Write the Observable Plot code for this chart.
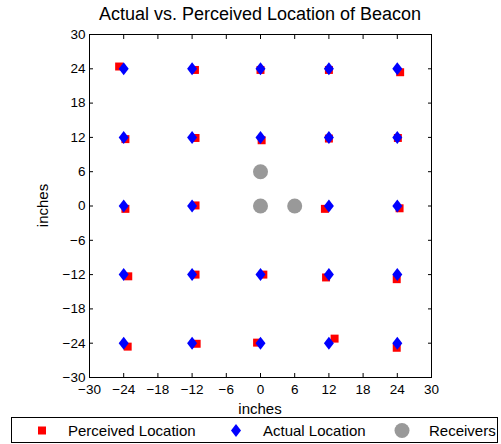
<!DOCTYPE html>
<html>
<head>
<meta charset="utf-8">
<script src="https://cdn.jsdelivr.net/npm/d3@7"></script>
<script src="https://cdn.jsdelivr.net/npm/@observablehq/plot@0.6"></script>
<style>
  html, body { margin: 0; padding: 0; background: white; }
  #chart { width: 501px; height: 444px; }
</style>
</head>
<body>
<div id="chart"></div>
<script>
// ---- data ----
const tickValues = [-30, -24, -18, -12, -6, 0, 6, 12, 18, 24, 30];

const actualX = [-24, -12, 0, 12, 24,  -24, -12, 0, 12, 24,  -24, -12, 12, 24,  -24, -12, 0, 12, 24,  -24, -12, 0, 12, 24];
const actualY = [ 24,  24, 24, 24, 24,   12,  12, 12, 12, 12,    0,   0,  0,  0,  -12, -12, -12, -12, -12,  -24, -24, -24, -24, -24];

const perceivedX = [-24.8, -11.5, 0.0, 12.0, 24.5,  -23.7, -11.4, 0.2, 12.0, 24.1,  -23.7, -11.4, 11.3, 24.4,  -23.2, -11.4, 0.5, 11.5, 23.9,  -23.3, -11.2, -0.6, 13.0, 23.9];
const perceivedY = [ 24.4,  23.8, 23.8, 23.8, 23.4,   11.7,  11.9, 11.5, 11.8, 11.9,   -0.5,   0.1, -0.5, -0.4,  -12.3, -12.0, -12.0, -12.5, -12.8,  -24.6, -24.1, -23.9, -23.2, -24.8];

const receiverX = [0, 0, 6];
const receiverY = [6, 0, 0];

const titleText = "Actual vs. Perceived Location of Beacon";
const xLabel = "inches";
const yLabel = "inches";
const legendLabels = ["Perceived Location", "Actual Location", "Receivers"];
const colors = {perceived: "#ff0000", actual: "#0000ff", receivers: "#999999"};

// ---- build tables ----
const perceived = perceivedX.map((x, i) => ({x, y: perceivedY[i]}));
const actual = actualX.map((x, i) => ({x, y: actualY[i]}));
const receivers = receiverX.map((x, i) => ({x, y: receiverY[i]}));

const tallDiamond = {
  draw(context, size) {
    const r = Math.sqrt(size / Math.PI);
    const w = r * 0.77;
    context.moveTo(0, -r);
    context.lineTo(w, 0);
    context.lineTo(0, r);
    context.lineTo(-w, 0);
    context.closePath();
  }
};

const fmt = d => (d < 0 ? "\u2212" + Math.abs(d) : String(d));
const FONT = "'Liberation Sans', Arial, Helvetica, sans-serif";

const W = 501, H = 444;
const mL = 89, mR = 70, mT = 34, mB = 67;

const chart = Plot.plot({
  width: W, height: H,
  marginTop: mT, marginBottom: mB, marginLeft: mL, marginRight: mR,
  x: {domain: [-30, 30]},
  y: {domain: [-30, 30]},
  style: {fontFamily: FONT, fontSize: "13.5px", color: "black", background: "white"},
  marks: [
    Plot.axisX(tickValues, {anchor: "bottom", tickSize: -4, tickPadding: 11, tickFormat: fmt, label: null, stroke: "black"}),
    Plot.axisX(tickValues, {anchor: "top", tickSize: -4, tickFormat: () => "", label: null, stroke: "black"}),
    Plot.axisY(tickValues, {anchor: "left", tickSize: -4, tickPadding: 8, tickFormat: fmt, label: null, stroke: "black"}),
    Plot.axisY(tickValues, {anchor: "right", tickSize: -4, tickFormat: () => "", label: null, stroke: "black"}),
    Plot.frame({stroke: "black", strokeWidth: 1}),
    Plot.dot(perceived, {x: "x", y: "y", symbol: "square", r: 4.5, fill: colors.perceived, stroke: null}),
    Plot.dot(actual, {x: "x", y: "y", symbol: tallDiamond, r: 6.5, fill: colors.actual, stroke: null}),
    Plot.dot(receivers, {x: "x", y: "y", symbol: "circle", r: 7.5, fill: colors.receivers, stroke: null})
  ]
});

document.getElementById("chart").appendChild(chart);

// ---- title, axis labels, legend added to the same SVG ----
const svg = d3.select(chart);
const cx = mL + (W - mL - mR) / 2;
const cy = mT + (H - mT - mB) / 2;

svg.append("text").attr("x", cx).attr("y", 20).attr("text-anchor", "middle")
  .style("font-family", FONT).style("font-size", "18px").attr("fill", "black").text(titleText);

svg.append("text").attr("x", cx).attr("y", 414).attr("text-anchor", "middle")
  .style("font-family", FONT).style("font-size", "15px").attr("fill", "black").text(xLabel);

svg.append("text").attr("transform", `translate(48,${cy}) rotate(-90)`).attr("text-anchor", "middle")
  .style("font-family", FONT).style("font-size", "15px").attr("fill", "black").text(yLabel);

const lg = svg.append("g");
lg.append("rect").attr("x", 11.5).attr("y", 417.5).attr("width", 486).attr("height", 25)
  .attr("fill", "white").attr("stroke", "black").attr("stroke-width", 1);
const ly = 430.5;
lg.append("rect").attr("x", 38).attr("y", ly - 4).attr("width", 8).attr("height", 8).attr("fill", colors.perceived);
lg.append("path").attr("d", `M236,${ly - 6.5}L241,${ly}L236,${ly + 6.5}L231,${ly}Z`).attr("fill", colors.actual);
lg.append("circle").attr("cx", 402).attr("cy", ly).attr("r", 7.5).attr("fill", colors.receivers);
const textXs = [68, 263, 429];
legendLabels.forEach((t, i) => {
  lg.append("text").attr("x", textXs[i]).attr("y", ly + 5.5).attr("text-anchor", "start")
    .style("font-family", FONT).style("font-size", "15px").attr("fill", "black").text(t);
});
</script>
</body>
</html>
